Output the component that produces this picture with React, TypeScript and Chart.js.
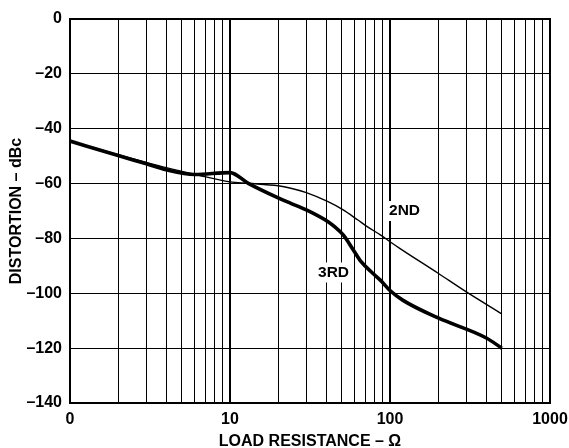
import React, { useEffect, useRef } from 'react';
import { Chart, registerables } from 'chart.js';

Chart.register(...registerables);

// ---- data ----
const resistance2nd = [1, 2, 3, 4, 6, 10, 13, 20, 24, 30, 41, 51, 63, 72, 87, 100, 115, 200, 300, 500];
const distortion2nd = [-44.5, -49.5, -52.3, -54.2, -56.6, -59.4, -59.9, -60.8, -61.7, -63.3, -66.6, -69.6, -73.3, -75.7, -78.7, -81.2, -83.6, -92.7, -99.5, -107.5];

const resistance3rd = [1, 2, 3, 4, 6, 10, 13, 20, 24, 30, 41, 45, 51, 59, 66, 78, 87, 100, 120, 200, 400, 500];
const distortion3rd = [-44.5, -49.8, -52.8, -55, -56.7, -56, -59.9, -65.2, -67.2, -69.6, -73.9, -75.7, -78.7, -84.2, -88.5, -92.7, -95.2, -99, -102.5, -109, -116.3, -120];

const xGridValues = [1, 2, 3, 4, 5, 6, 7, 8, 9, 10, 20, 30, 40, 50, 60, 70, 80, 90, 100, 200, 300, 400, 500, 600, 700, 800, 900, 1000];
const xTickLabelValues = [1, 10, 100, 1000];
const xTickLabelTexts = ['0', '10', '100', '1000'];

const curveLabels = ['2ND', '3RD'];
const curveLabelR = [98.6, 35.5];
const curveLabelDb = [-70, -92.4];

const xTitle = 'LOAD RESISTANCE – Ω';
const yTitle = 'DISTORTION – dBc';

const FONT = '"Liberation Sans", Arial, Helvetica, sans-serif';

const overlayPlugin = {
  id: 'overlay',
  afterDatasetsDraw(chart: any) {
    const { ctx, scales } = chart;
    ctx.save();
    ctx.font = `bold 15.5px ${FONT}`;
    ctx.textBaseline = 'middle';
    ctx.textAlign = 'left';
    curveLabels.forEach((t, i) => {
      const x = scales.x.getPixelForValue(curveLabelR[i]);
      const y = scales.y.getPixelForValue(curveLabelDb[i]);
      const w = ctx.measureText(t).width;
      ctx.fillStyle = '#fff';
      ctx.fillRect(x - 2, y - 10, w + 4, 20);
      ctx.fillStyle = '#000';
      ctx.fillText(t, x, y);
    });
    ctx.restore();
  },
  afterDraw(chart: any) {
    const { ctx, chartArea } = chart;
    ctx.save();
    ctx.strokeStyle = '#000';
    ctx.lineWidth = 2;
    ctx.strokeRect(chartArea.left, chartArea.top, chartArea.right - chartArea.left, chartArea.bottom - chartArea.top);
    ctx.fillStyle = '#000';
    ctx.font = `bold 16px ${FONT}`;
    ctx.textAlign = 'center';
    ctx.textBaseline = 'middle';
    ctx.fillText(xTitle, (chartArea.left + chartArea.right) / 2, 442);
    ctx.translate(17, (chartArea.top + chartArea.bottom) / 2);
    ctx.rotate(-Math.PI / 2);
    ctx.fillText(yTitle, 0, 0);
    ctx.restore();
  },
};

export default function App() {
  const ref = useRef<HTMLCanvasElement | null>(null);

  useEffect(() => {
    document.body.style.margin = '0';
    const canvas = ref.current;
    if (!canvas) return;
    Chart.defaults.font.family = FONT;
    const chart = new Chart(canvas, {
      type: 'line',
      data: {
        datasets: [
          {
            label: '2ND',
            data: resistance2nd.map((r, i) => ({ x: r, y: distortion2nd[i] })),
            borderColor: '#000',
            borderWidth: 1.4,
            pointRadius: 0,
            cubicInterpolationMode: 'monotone',
            fill: false,
          },
          {
            label: '3RD',
            data: resistance3rd.map((r, i) => ({ x: r, y: distortion3rd[i] })),
            borderColor: '#000',
            borderWidth: 3.6,
            pointRadius: 0,
            cubicInterpolationMode: 'monotone',
            fill: false,
          },
        ],
      },
      options: {
        animation: false,
        responsive: false,
        events: [],
        layout: { padding: { top: 19, right: 19, left: 0, bottom: 0 } },
        plugins: { legend: { display: false }, tooltip: { enabled: false }, title: { display: false } },
        scales: {
          x: {
            type: 'logarithmic',
            min: 1,
            max: 1000,
            afterBuildTicks: (scale: any) => {
              scale.ticks = xGridValues.map((v) => ({ value: v }));
            },
            afterFit: (scale: any) => {
              scale.height = 45;
              scale.paddingLeft = 0;
              scale.paddingRight = 0;
            },
            ticks: {
              autoSkip: false,
              maxRotation: 0,
              minRotation: 0,
              padding: 7,
              color: '#000',
              font: { size: 16, weight: 'bold' },
              callback: (value: any) => {
                const idx = xTickLabelValues.indexOf(Number(value));
                return idx >= 0 ? xTickLabelTexts[idx] : '';
              },
            },
            grid: {
              color: '#000',
              drawTicks: false,
              lineWidth: (c: any) => (c.tick && (c.tick.value === 10 || c.tick.value === 100) ? 2 : 1),
            },
            border: { display: false },
          },
          y: {
            type: 'linear',
            min: -140,
            max: 0,
            afterFit: (scale: any) => {
              scale.width = 70;
              scale.paddingTop = 0;
              scale.paddingBottom = 0;
            },
            ticks: {
              stepSize: 20,
              padding: 8,
              color: '#000',
              font: { size: 16, weight: 'bold' },
              callback: (v: any) => (Number(v) === 0 ? '0' : '–' + Math.abs(Number(v))),
            },
            grid: { color: '#000', drawTicks: false, lineWidth: 1 },
            border: { display: false },
          },
        },
      },
      plugins: [overlayPlugin],
    } as any);
    return () => chart.destroy();
  }, []);

  return <canvas ref={ref} width={569} height={448} style={{ display: 'block', width: 569, height: 448 }} />;
}
